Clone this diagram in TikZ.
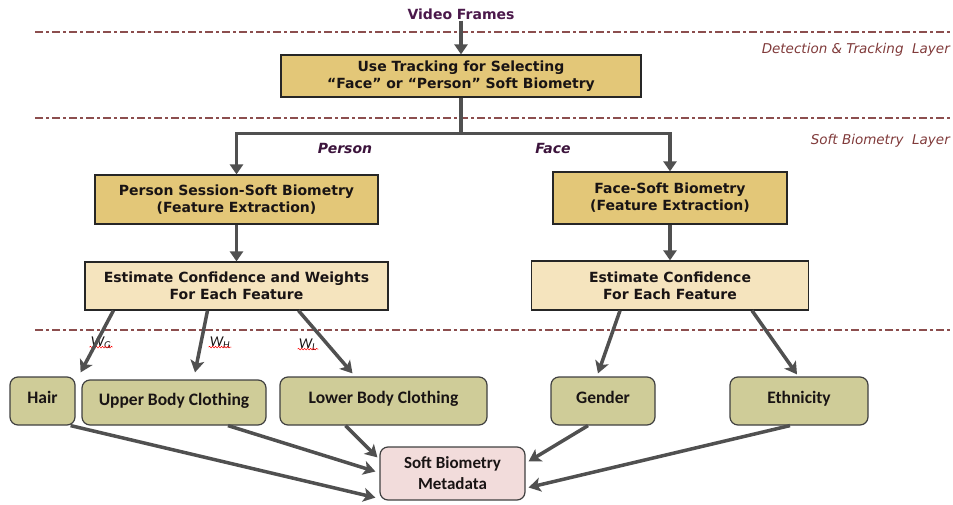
\documentclass[tikz,border=0pt]{standalone}
\usepackage{fontspec}
\setmainfont{DejaVu Sans}
\newfontfamily\carl{Carlito}
\usetikzlibrary{arrows.meta,decorations.pathmorphing}
\definecolor{goldf}{RGB}{227,199,120}
\definecolor{creamf}{RGB}{245,228,190}
\definecolor{olivef}{RGB}{207,204,152}
\definecolor{pinkf}{RGB}{242,220,219}
\definecolor{arrgray}{RGB}{80,80,80}
\definecolor{dashred}{RGB}{140,78,78}
\definecolor{layerc}{RGB}{128,58,58}
\definecolor{purp}{RGB}{75,25,75}
\definecolor{txt}{RGB}{25,20,20}
\tikzset{
  sqbox/.style={draw=black!85, line width=1.2pt, align=center, inner sep=0pt,
    font=\bfseries\fontsize{14pt}{17pt}\selectfont, text=txt},
  goldbox/.style={sqbox, fill=goldf},
  creambox/.style={sqbox, fill=creamf},
  leafbox/.style={draw=black!75, line width=1.2pt, rounded corners=8pt, fill=olivef,
    inner sep=0pt, font=\carl\bfseries\fontsize{17.5pt}{20pt}\selectfont, text=txt,
    text height=12pt, text depth=7pt},
  metabox/.style={draw=black!75, line width=1.2pt, rounded corners=8pt, fill=pinkf,
    align=center, inner sep=0pt, font=\carl\bfseries\fontsize{17pt}{21pt}\selectfont, text=txt},
  layer/.style={anchor=east, inner sep=0pt, font=\fontsize{13.5pt}{15pt}\selectfont\itshape, text=layerc},
  branch/.style={inner sep=0pt, font=\bfseries\itshape\fontsize{14pt}{16pt}\selectfont, text=purp!80!black},
  wlbl/.style={inner sep=1pt, font=\carl\itshape\fontsize{15pt}{17pt}\selectfont, text=txt},
  sep/.style={draw=dashred, line width=2pt, dash pattern=on 8pt off 3pt on 3pt off 3pt},
  conn/.style={draw=arrgray, line width=3.5pt},
  arrv/.style={conn, -{Triangle[length=10pt,width=13pt]}},
  arrd/.style={conn, -{Stealth[length=12pt,width=14pt,inset=3pt]}},
  squig/.style={draw=red, line width=0.5pt, decorate, decoration={snake, amplitude=0.8pt, segment length=3pt}}
}
\begin{document}
\begin{tikzpicture}[x=1pt,y=-1pt]
\useasboundingbox (0,0) rectangle (953,505);
% layer separators
\draw[sep] (35,32) -- (953,32);
\draw[sep] (35,118) -- (953,118);
\draw[sep] (35,330) -- (953,330);
\node[layer] (l1) at (950,50) {Detection \& Tracking\ \ Layer};
\node[layer] (l2) at (950,141) {Soft Biometry\ \ Layer};

% nodes
\node[inner sep=1pt, font=\bfseries\fontsize{14pt}{16pt}\selectfont, text=purp] (vf) at (461,14) {Video Frames};
\node[goldbox, minimum width=360pt, minimum height=42pt] (top) at (461,76)
  {Use Tracking for Selecting\\“Face” or “Person” Soft Biometry};
\node[goldbox, minimum width=283pt, minimum height=49pt] (person) at (236.5,199.5)
  {Person Session-Soft Biometry\\(Feature Extraction)};
\node[goldbox, minimum width=234pt, minimum height=52pt] (face) at (670,198)
  {Face-Soft Biometry\\(Feature Extraction)};
\node[creambox, minimum width=303pt, minimum height=48pt] (estw) at (236.5,286)
  {Estimate Confidence and Weights\\For Each Feature};
\node[creambox, minimum width=277pt, minimum height=49pt] (estc) at (670,285.5)
  {Estimate Confidence\\For Each Feature};
\node[branch] (pl) at (345,148) {Person};
\node[branch] (fl) at (553,148) {Face};

\node[leafbox, minimum width=65pt, minimum height=48pt] (hair) at (42.5,401) {Hair};
\node[leafbox, minimum width=184pt, minimum height=45pt] (upper) at (174,402.5) {Upper Body Clothing};
\node[leafbox, minimum width=207pt, minimum height=48pt] (lower) at (383.5,401) {Lower Body Clothing};
\node[leafbox, minimum width=104pt, minimum height=48pt] (gender) at (603,401) {Gender};
\node[leafbox, minimum width=138pt, minimum height=48pt] (eth) at (799,401) {Ethnicity};
\node[metabox, minimum width=145pt, minimum height=53pt] (meta) at (452.5,473.5)
  {Soft Biometry\\Metadata};

% weight labels
\node[wlbl] (wg) at (101,343) {W\textsubscript{G}};
\node[wlbl] (wh) at (220,343) {W\textsubscript{H}};
\node[wlbl] (wl) at (308,345) {W\textsubscript{L}};
\draw[squig] ([yshift=3pt]wg.south west) -- ([yshift=3pt]wg.south east);
\draw[squig] ([yshift=3pt]wh.south west) -- ([yshift=3pt]wh.south east);
\draw[squig] ([yshift=3pt]wl.south west) -- ([yshift=3pt]wl.south east);

% connectors
\draw[arrv] (vf.south) -- (top.north);
\draw[conn] (top.south) -- ++(0,36) coordinate (jn);
\draw[arrv] (jn) -| (person.north);
\draw[arrv] (jn) -| (face.north);
\draw[arrv] (person.south) -- (estw.north);
\draw[arrv] (face.south) -- (estc.north);

\draw[arrd] ([xshift=29pt]estw.south west) -- ([xshift=5pt,yshift=4pt]hair.north east);
\draw[arrd] ([xshift=-29pt]estw.south) -- ([xshift=21pt,yshift=7pt]upper.north);
\draw[arrd] ([xshift=62pt]estw.south) -- ([xshift=-31pt,yshift=3pt]lower.north);
\draw[arrd] ([xshift=-50pt]estc.south) -- ([xshift=-5pt,yshift=3pt]gender.north);
\draw[arrd] ([xshift=82pt]estc.south) -- ([xshift=-2pt,yshift=2pt]eth.north);

\draw[arrd] ([xshift=-5pt]hair.south east) -- ([xshift=-4pt,yshift=3pt]meta.south west);
\draw[arrd] ([xshift=54pt]upper.south) -- ([xshift=-4pt,yshift=2pt]meta.west);
\draw[arrd] ([xshift=-38pt]lower.south) -- ([xshift=-2pt,yshift=-11pt]meta.north west);
\draw[arrd] ([xshift=-15pt]gender.south) -- ([xshift=3pt,yshift=-15pt]meta.north east);
\draw[arrd] ([xshift=-9pt]eth.south) -- ([xshift=3pt,yshift=-14pt]meta.east);
\end{tikzpicture}
\end{document}
